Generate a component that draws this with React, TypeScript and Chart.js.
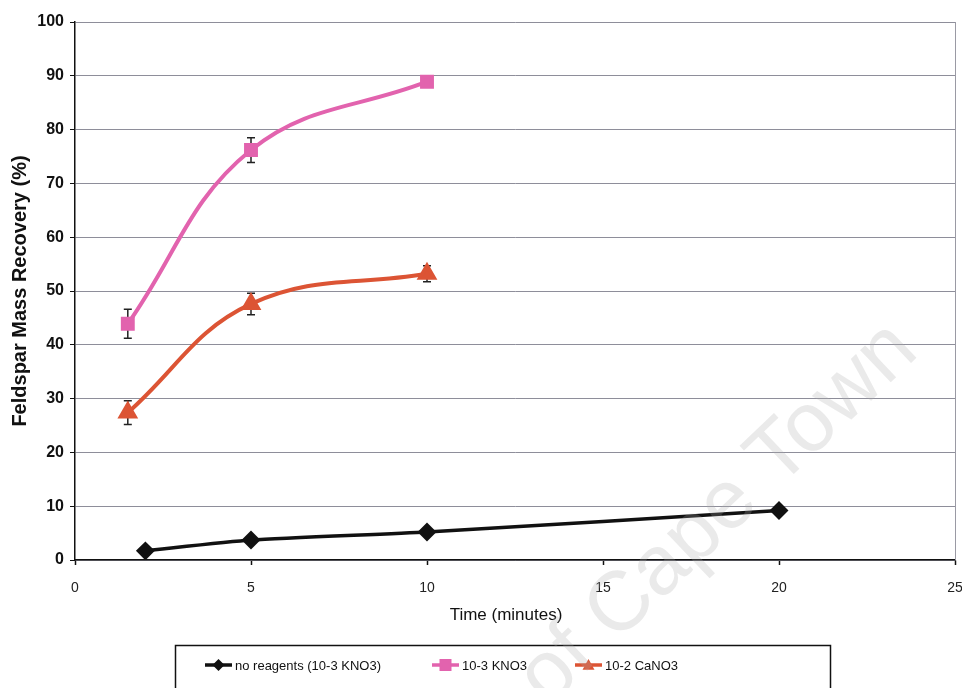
import React, { useEffect, useRef } from "react";
import { Chart, registerables } from "chart.js";

Chart.register(...registerables);

const noReagentsX = [2, 5, 10, 20];
const noReagentsY = [1.7, 3.7, 5.2, 9.2];

const kno3X = [1.5, 5, 10];
const kno3Y = [43.9, 76.2, 88.9];
const kno3Err = [2.7, 2.3, 0];

const cano3X = [1.5, 5, 10];
const cano3Y = [27.4, 47.6, 53.2];
const cano3Err = [2.2, 2.0, 1.5];

const seriesLabels = ["no reagents (10-3 KNO3)", "10-3 KNO3", "10-2 CaNO3"];
const xTitle = "Time (minutes)";
const yTitle = "Feldspar Mass Recovery (%)";
const watermark = "of Cape Town";

const FONT = "'Liberation Sans', Arial, sans-serif";
const BLACK = "#111111";
const PINK = "#E263AE";
const RED = "#DC5434";

const toPoints = (xs: number[], ys: number[]) => xs.map((x, i) => ({ x, y: ys[i] }));

const errorBarPlugin = {
  id: "errorBars",
  beforeDatasetsDraw(chart: any) {
    const { ctx, scales } = chart;
    chart.data.datasets.forEach((ds: any) => {
      if (!ds.errors) return;
      ctx.save();
      ctx.strokeStyle = "#222";
      ctx.lineWidth = 1.5;
      ds.data.forEach((p: any, i: number) => {
        const e = ds.errors[i];
        if (!e) return;
        const px = scales.x.getPixelForValue(p.x);
        const top = scales.y.getPixelForValue(p.y + e);
        const bot = scales.y.getPixelForValue(p.y - e);
        ctx.beginPath();
        ctx.moveTo(px, top);
        ctx.lineTo(px, bot);
        ctx.moveTo(px - 4, top);
        ctx.lineTo(px + 4, top);
        ctx.moveTo(px - 4, bot);
        ctx.lineTo(px + 4, bot);
        ctx.stroke();
      });
      ctx.restore();
    });
  },
};

function drawMarker(ctx: CanvasRenderingContext2D, style: string, x: number, y: number, r: number, color: string) {
  ctx.fillStyle = color;
  ctx.beginPath();
  if (style === "rectRot") {
    ctx.moveTo(x, y - r);
    ctx.lineTo(x + r, y);
    ctx.lineTo(x, y + r);
    ctx.lineTo(x - r, y);
  } else if (style === "rect") {
    ctx.rect(x - r, y - r, 2 * r, 2 * r);
  } else {
    ctx.moveTo(x, y - r);
    ctx.lineTo(x + r, y + r * 0.8);
    ctx.lineTo(x - r, y + r * 0.8);
  }
  ctx.closePath();
  ctx.fill();
}

const extrasPlugin = {
  id: "extras",
  afterDraw(chart: any) {
    const { ctx, chartArea } = chart;
    ctx.save();
    // right border of plot area
    ctx.strokeStyle = "#9a9aa4";
    ctx.lineWidth = 1;
    ctx.beginPath();
    ctx.moveTo(chartArea.right + 0.5, chartArea.top);
    ctx.lineTo(chartArea.right + 0.5, chartArea.bottom);
    ctx.stroke();

    // x title
    ctx.fillStyle = BLACK;
    ctx.font = `17px ${FONT}`;
    ctx.textAlign = "center";
    ctx.textBaseline = "middle";
    ctx.fillText(xTitle, 506, 615);

    // legend box
    ctx.strokeStyle = "#111";
    ctx.lineWidth = 1.5;
    ctx.strokeRect(175.5, 645.5, 655, 60);
    const itemX = [205, 432, 575];
    const cy = 665;
    chart.data.datasets.forEach((ds: any, i: number) => {
      const x0 = itemX[i];
      ctx.strokeStyle = ds.borderColor;
      ctx.lineWidth = 3.5;
      ctx.beginPath();
      ctx.moveTo(x0, cy);
      ctx.lineTo(x0 + 27, cy);
      ctx.stroke();
      drawMarker(ctx, ds.pointStyle, x0 + 13.5, cy, 6, ds.pointBackgroundColor);
      ctx.fillStyle = BLACK;
      ctx.font = `13px ${FONT}`;
      ctx.textAlign = "left";
      ctx.textBaseline = "middle";
      ctx.fillText(ds.label, x0 + 30, cy + 1);
    });

    // watermark
    ctx.font = `84px ${FONT}`;
    ctx.textBaseline = "middle";
    ctx.textAlign = "right";
    const capeW = ctx.measureText("Cape Town").width;
    ctx.translate(752, 482);
    ctx.rotate(-0.76);
    ctx.fillStyle = "rgba(170,170,170,0.25)";
    ctx.fillText(watermark, capeW / 2, 0);
    ctx.restore();
  },
};

export default function App() {
  const ref = useRef<HTMLCanvasElement | null>(null);
  useEffect(() => {
    document.body.style.margin = "0";
    const canvas = ref.current!;
    const chart = new Chart(canvas, {
      type: "line",
      data: {
        datasets: [
          {
            label: seriesLabels[0],
            data: toPoints(noReagentsX, noReagentsY),
            borderColor: BLACK,
            backgroundColor: BLACK,
            pointBackgroundColor: BLACK,
            pointBorderColor: BLACK,
            pointStyle: "rectRot",
            pointRadius: 7,
            borderWidth: 3.5,
            tension: 0.2,
          } as any,
          {
            label: seriesLabels[1],
            data: toPoints(kno3X, kno3Y),
            errors: kno3Err,
            borderColor: PINK,
            backgroundColor: PINK,
            pointBackgroundColor: PINK,
            pointBorderColor: PINK,
            pointStyle: "rect",
            pointRadius: 7,
            borderWidth: 4,
            tension: 0.4,
          },
          {
            label: seriesLabels[2],
            data: toPoints(cano3X, cano3Y),
            errors: cano3Err,
            borderColor: RED,
            backgroundColor: RED,
            pointBackgroundColor: RED,
            pointBorderColor: RED,
            pointStyle: "triangle",
            pointRadius: 8,
            borderWidth: 4,
            tension: 0.4,
          },
        ],
      },
      options: {
        animation: false,
        responsive: false,
        maintainAspectRatio: false,
        layout: { autoPadding: false, padding: { top: 22, right: 7, bottom: 58, left: 0 } },
        plugins: { legend: { display: false }, tooltip: { enabled: false } },
        scales: {
          x: {
            type: "linear",
            min: 0,
            max: 25,
            ticks: { stepSize: 5, color: "#222", font: { family: FONT, size: 14 }, padding: 15 },
            grid: { drawOnChartArea: false, tickLength: 5, tickColor: "#111", tickWidth: 1.5 },
            border: { color: "#111", width: 1.5 },
            afterFit: (s: any) => {
              s.height = 70;
              s.paddingLeft = 0;
              s.paddingRight = 0;
            },
          },
          y: {
            min: 0,
            max: 100,
            ticks: { stepSize: 10, color: "#111", font: { family: FONT, size: 16, weight: "bold" }, padding: 6 },
            grid: { color: "#8e8e9a", lineWidth: 1, tickLength: 5, tickColor: "#111" },
            border: { color: "#111", width: 1.5 },
            title: {
              display: true,
              text: yTitle,
              color: "#111",
              font: { family: FONT, size: 20, weight: "bold" },
              padding: { top: 8, bottom: 0 },
            },
            afterFit: (s: any) => {
              s.width = 75;
              s.paddingTop = 0;
              s.paddingBottom = 0;
            },
          },
        },
      },
      plugins: [errorBarPlugin, extrasPlugin],
    } as any);
    return () => chart.destroy();
  }, []);
  return (
    <div style={{ position: "relative", width: 962, height: 688 }}>
      <canvas ref={ref} width={962} height={688} style={{ display: "block" }} />
    </div>
  );
}
